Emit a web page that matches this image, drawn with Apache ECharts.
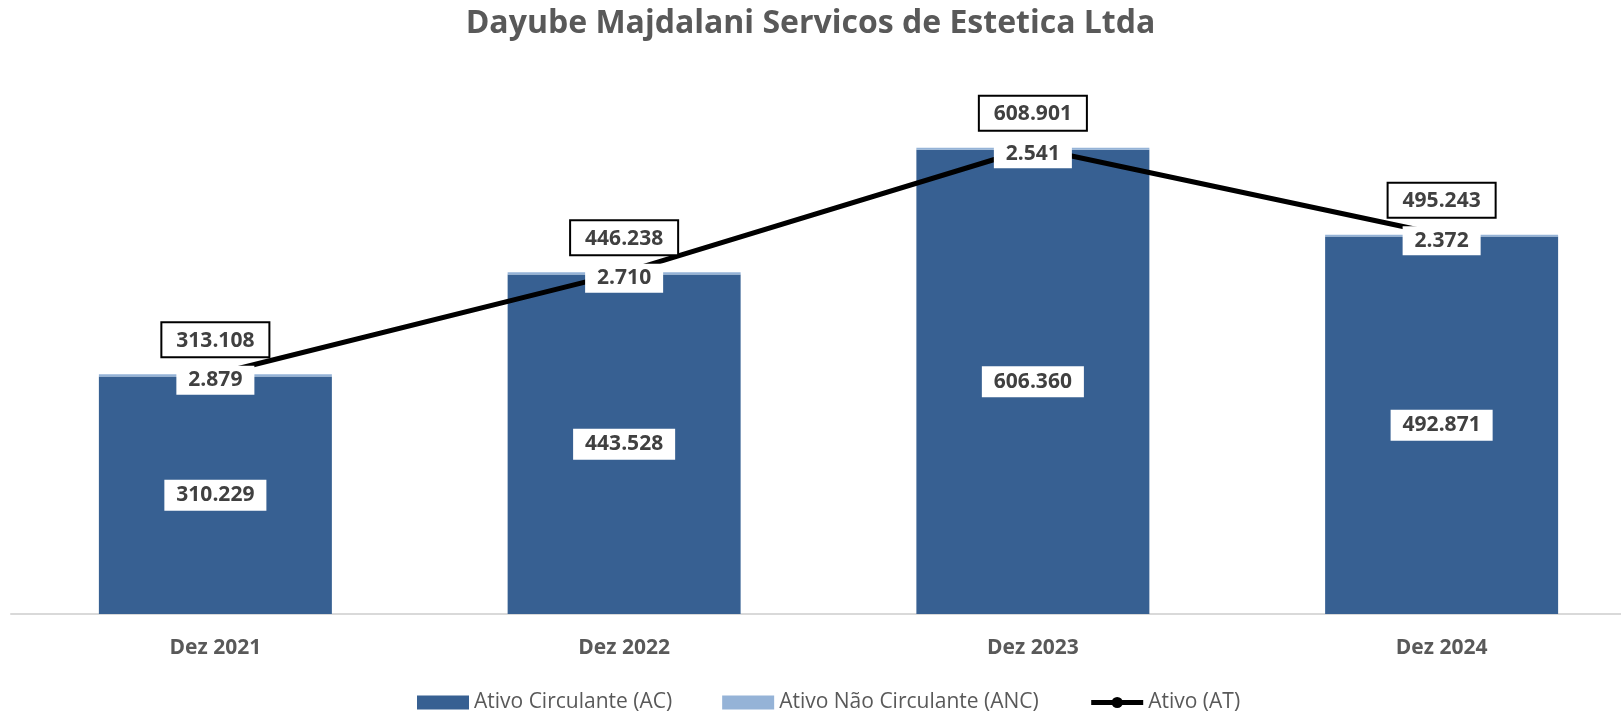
<!DOCTYPE html>
<html>
<head>
<meta charset="utf-8">
<script src="https://cdn.jsdelivr.net/npm/echarts@6/dist/echarts.min.js"></script>
<style>
  html, body { margin: 0; padding: 0; background: #fff; }
  #chart { width: 1621px; height: 711px; }
</style>
</head>
<body>
<div id="chart"></div>
<script>
var categories = ['Dez 2021', 'Dez 2022', 'Dez 2023', 'Dez 2024'];
var ativoCirculante = [310229, 443528, 606360, 492871];
var ativoNaoCirculante = [2879, 2710, 2541, 2372];
var ativoTotal = [313108, 446238, 608901, 495243];

var fontName = '"Open Sans", sans-serif';

function fmt(v) {
    return v.toString().replace(/\B(?=(\d{3})+(?!\d))/g, '.');
}

var chart = echarts.init(document.getElementById('chart'));
var option = {
    animation: false,
    textStyle: { fontFamily: fontName },
    title: {
        text: 'Dayube Majdalani Servicos de Estetica Ltda',
        left: 'center',
        top: 3,
        textStyle: { fontSize: 32, fontWeight: 'bold', color: '#595959', fontFamily: fontName }
    },
    legend: {
        top: 687,
        left: 412,
        itemGap: 50,
        itemWidth: 52,
        itemHeight: 14,
        textStyle: { fontSize: 21, color: '#595959' },
        data: [
            { name: 'Ativo Circulante (AC)', icon: 'rect' },
            { name: 'Ativo Não Circulante (ANC)', icon: 'rect' },
            { name: 'Ativo (AT)', lineStyle: { width: 5 } }
        ]
    },
    grid: { left: 11, right: -25, top: 78, bottom: 97, outerBoundsMode: 'none' },
    xAxis: {
        type: 'category',
        data: categories,
        axisTick: { show: false },
        axisLine: { lineStyle: { color: '#d9d9d9', width: 2 } },
        axisLabel: { fontSize: 21, fontWeight: 'bold', color: '#595959', margin: 24 }
    },
    yAxis: {
        type: 'value',
        min: 0,
        max: 700000,
        show: false
    },
    series: [
        {
            name: 'Ativo Circulante (AC)',
            type: 'bar',
            stack: 'ativo',
            barWidth: '57%',
            itemStyle: { color: '#376092' },
            label: {
                show: true,
                position: 'inside',
                formatter: function (p) { return fmt(p.value); },
                backgroundColor: '#fff',
                color: '#404040',
                fontWeight: 'bold',
                fontSize: 21,
                padding: [6, 12, 4, 12]
            },
            data: ativoCirculante
        },
        {
            name: 'Ativo Não Circulante (ANC)',
            type: 'bar',
            stack: 'ativo',
            itemStyle: { color: '#95b3d7' },
            data: ativoNaoCirculante
        },
        {
            name: 'Ativo (AT)',
            type: 'line',
            z: 3,
            symbol: 'circle',
            symbolSize: 10,
            itemStyle: { color: '#000' },
            lineStyle: { color: '#000', width: 5 },
            label: {
                show: true,
                position: 'top',
                distance: 13,
                formatter: function (p) { return fmt(p.value); },
                backgroundColor: '#fff',
                borderColor: '#000',
                borderWidth: 2,
                color: '#404040',
                fontWeight: 'bold',
                fontSize: 21,
                padding: [7, 14, 5, 14]
            },
            data: ativoTotal
        },
        {
            // ANC labels, drawn above the total line
            name: 'ANC label',
            type: 'scatter',
            z: 4,
            symbolSize: 1,
            silent: true,
            itemStyle: { color: 'rgba(0,0,0,0)', opacity: 1 },
            label: {
                show: true,
                position: 'inside',
                offset: [0, 6],
                opacity: 1,
                formatter: function (p) { return fmt(ativoNaoCirculante[p.dataIndex]); },
                backgroundColor: '#fff',
                color: '#404040',
                fontWeight: 'bold',
                fontSize: 21,
                padding: [5, 12, 3, 12]
            },
            data: ativoTotal
        }
    ]
};
chart.setOption(option);
</script>
</body>
</html>
